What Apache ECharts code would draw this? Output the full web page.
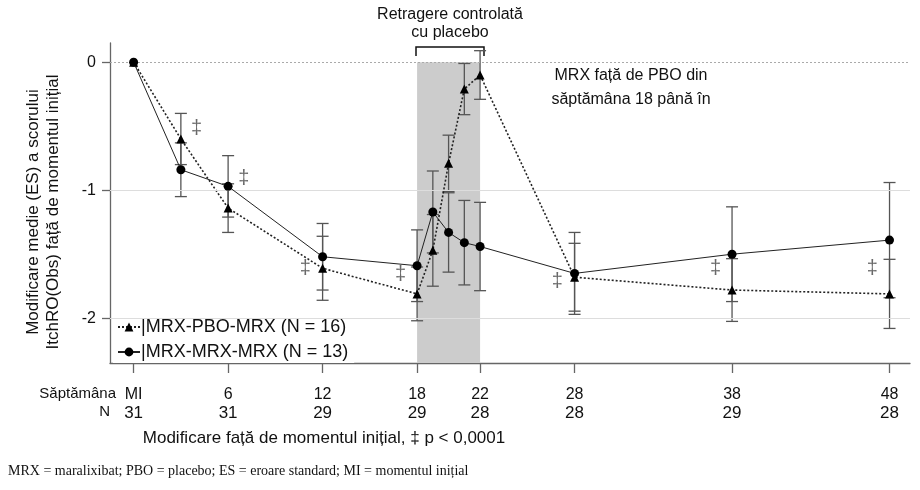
<!DOCTYPE html>
<html>
<head>
<meta charset="utf-8">
<script src="https://cdn.jsdelivr.net/npm/echarts@6/dist/echarts.min.js"></script>
<style>
html,body{margin:0;padding:0;background:#fff;}
#chart{width:920px;height:490px;}
</style>
</head>
<body>
<div id="chart"></div>
<script>
// ---- data ----
const weeks = [0, 3, 6, 12, 18, 19, 20, 21, 22, 28, 38, 48];
const pboMean = [0, -0.60, -1.14, -1.61, -1.81, -1.47, -0.79, -0.21, -0.10, -1.68, -1.78, -1.81];
const pboSE   = [0, 0.20, 0.19, 0.25, 0.21, 0.28, 0.22, 0.20, 0.19, 0.265, 0.245, 0.27];
const mrxMean = [0, -0.84, -0.97, -1.52, -1.59, -1.17, -1.33, -1.41, -1.44, -1.65, -1.50, -1.39];
const mrxSE   = [0, 0.21, 0.24, 0.26, 0.28, 0.32, 0.31, 0.33, 0.345, 0.32, 0.37, 0.45];
const tickWeeks  = [0, 6, 12, 18, 22, 28, 38, 48];
const weekLabels = ['MI', '6', '12', '18', '22', '28', '38', '48'];
const nLabels    = ['31', '31', '29', '29', '28', '28', '29', '28'];
const yTicks = [0, -1, -2];
const daggerWeeks  = [4.0, 7.0, 10.9, 16.95, 26.9, 36.95, 46.9];
const daggerValues = [-0.52, -0.91, -1.61, -1.66, -1.71, -1.61, -1.61];
const withdrawalStart = 18, withdrawalEnd = 22;
const namePBO = '|MRX-PBO-MRX (N = 16)';
const nameMRX = '|MRX-MRX-MRX (N = 13)';

const FONT = '"Liberation Sans", Arial, sans-serif';

function errData(mean, se) {
  const out = [];
  weeks.forEach((w, i) => { if (se[i] > 0) out.push([w, mean[i] - se[i], mean[i] + se[i]]); });
  return out;
}
function errRender(params, api) {
  const x = api.value(0), lo = api.value(1), hi = api.value(2);
  const a = api.coord([x, lo]), b = api.coord([x, hi]);
  const w = 6;
  const st = { stroke: '#555', lineWidth: 1.3 };
  return {
    type: 'group',
    children: [
      { type: 'line', shape: { x1: a[0], y1: a[1], x2: b[0], y2: b[1] }, style: st },
      { type: 'line', shape: { x1: a[0] - w, y1: a[1], x2: a[0] + w, y2: a[1] }, style: st },
      { type: 'line', shape: { x1: b[0] - w, y1: b[1], x2: b[0] + w, y2: b[1] }, style: st }
    ]
  };
}

const chart = echarts.init(document.getElementById('chart'), null, { renderer: 'canvas' });
const option = {
  animation: false,
  backgroundColor: '#fff',
  textStyle: { fontFamily: FONT },
  grid: { left: 110, right: 10, top: 43, bottom: 127, containLabel: false },
  legend: {
    data: [namePBO, nameMRX],
    orient: 'vertical',
    left: 113, top: 316,
    itemWidth: 22, itemHeight: 11, itemGap: 7,
    padding: [2, 6, 2, 4],
    backgroundColor: '#fff',
    textStyle: { fontSize: 18, color: '#111', fontFamily: FONT, padding: [0, 0, 0, -4] }
  },
  xAxis: {
    type: 'value', min: -1.5, max: 49.3,
    splitLine: { show: false },
    axisLine: { show: true, onZero: false, lineStyle: { color: '#666', width: 1.3 } },
    axisTick: { show: true, customValues: tickWeeks, length: 10, lineStyle: { color: '#666', width: 1.3 } },
    axisLabel: {
      customValues: tickWeeks, margin: 22, color: '#111', fontSize: 16,
      formatter: function (v) {
        const i = tickWeeks.indexOf(v);
        return '{a|' + weekLabels[i] + '}\n{b|' + nLabels[i] + '}';
      },
      rich: {
        a: { fontSize: 16, lineHeight: 19, color: '#111', fontFamily: FONT },
        b: { fontSize: 17, lineHeight: 19, color: '#111', fontFamily: FONT }
      }
    }
  },
  yAxis: {
    type: 'value', min: -2.35, max: 0.15,
    splitLine: { show: false },
    axisLine: { show: true, onZero: false, lineStyle: { color: '#666', width: 1.3 } },
    axisTick: { show: true, customValues: yTicks, length: 8, lineStyle: { color: '#666', width: 1.3 } },
    axisLabel: { customValues: yTicks, margin: 14, fontSize: 16, color: '#111', formatter: v => String(v) }
  },
  series: [
    {
      name: 'grid', type: 'line', data: [], z: 0, silent: true,
      markLine: {
        silent: true, symbol: 'none', label: { show: false },
        data: [
          { yAxis: 0, lineStyle: { color: '#aaa', type: [2, 2], width: 1 } },
          { yAxis: -1, lineStyle: { color: '#ddd', type: 'solid', width: 1 } },
          { yAxis: -2, lineStyle: { color: '#ddd', type: 'solid', width: 1 } }
        ]
      }
    },
    {
      name: 'band', type: 'line', data: [], z: 1, silent: true,
      markArea: {
        silent: true,
        itemStyle: { color: '#cccccc' },
        data: [[{ xAxis: withdrawalStart, yAxis: 0 }, { xAxis: withdrawalEnd, yAxis: -2.35 }]]
      }
    },
    {
      name: 'errPBO', type: 'custom', z: 3, silent: true,
      renderItem: errRender, data: errData(pboMean, pboSE), encode: { x: 0, y: [1, 2] }
    },
    {
      name: 'errMRX', type: 'custom', z: 3, silent: true,
      renderItem: errRender, data: errData(mrxMean, mrxSE), encode: { x: 0, y: [1, 2] }
    },
    {
      name: namePBO, type: 'line', z: 4,
      data: weeks.map((w, i) => [w, pboMean[i]]),
      symbol: 'triangle', symbolSize: 9,
      itemStyle: { color: '#000' },
      lineStyle: { color: '#222', width: 1.6, type: [2, 2] }
    },
    {
      name: nameMRX, type: 'line', z: 5,
      data: weeks.map((w, i) => [w, mrxMean[i]]),
      symbol: 'circle', symbolSize: 9,
      itemStyle: { color: '#000' },
      lineStyle: { color: '#222', width: 1 }
    },
    {
      name: 'dagger', type: 'scatter', z: 6, silent: true,
      data: daggerWeeks.map((w, i) => [w, daggerValues[i]]),
      symbolSize: 1, itemStyle: { color: 'rgba(0,0,0,0)' },
      label: { show: true, position: 'inside', formatter: '‡', fontSize: 20, color: '#444', fontFamily: FONT }
    }
  ],
  graphic: [
    { type: 'text', x: 43, y: 212, rotation: Math.PI / 2,
      style: { text: 'Modificare medie (ES) a scorului\nItchRO(Obs) față de momentul inițial', fontSize: 17, lineHeight: 20,
        fill: '#111', fontFamily: FONT, align: 'center', verticalAlign: 'middle' } },
    { type: 'text', x: 450, y: 24,
      style: { text: 'Retragere controlată\ncu placebo', fontSize: 16, lineHeight: 18, fill: '#111', fontFamily: FONT,
        align: 'center', verticalAlign: 'middle' } },
    { type: 'polyline', shape: { points: [[416, 56], [416, 47], [484, 47], [484, 56]] },
      style: { stroke: '#111', lineWidth: 1.5, fill: null } },
    { type: 'text', x: 631, y: 88,
      style: { text: 'MRX față de PBO din\nsăptămâna 18 până în', fontSize: 16, lineHeight: 24, fill: '#111', fontFamily: FONT,
        align: 'center', verticalAlign: 'middle' } },
    { type: 'text', x: 116, y: 394,
      style: { text: 'Săptămâna', fontSize: 15, fill: '#111', fontFamily: FONT, align: 'right', verticalAlign: 'middle' } },
    { type: 'text', x: 110, y: 412,
      style: { text: 'N', fontSize: 15, fill: '#111', fontFamily: FONT, align: 'right', verticalAlign: 'middle' } },
    { type: 'text', x: 324, y: 438,
      style: { text: 'Modificare față de momentul inițial, ‡ p < 0,0001', fontSize: 17, fill: '#111', fontFamily: FONT,
        align: 'center', verticalAlign: 'middle' } },
    { type: 'text', x: 8, y: 471,
      style: { text: 'MRX = maralixibat; PBO = placebo; ES = eroare standard; MI = momentul inițial', fontSize: 14,
        fill: '#111', fontFamily: '"Liberation Serif", "Times New Roman", serif', align: 'left', verticalAlign: 'middle' } }
  ]
};
chart.setOption(option);
</script>
</body>
</html>
